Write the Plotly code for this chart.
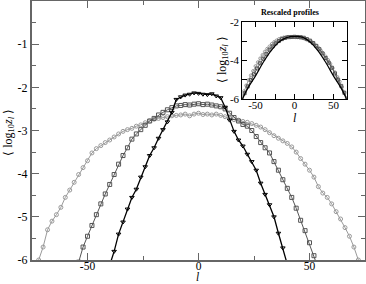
import plotly.graph_objects as go

# ---- main panel data ----
l_black = list(range(-40, 41, 2))
v_black = [-6.12, -5.8, -5.4, -5.12, -4.82, -4.55, -4.36, -4.08, -3.84, -3.58,
           -3.40, -3.18, -2.98, -2.80, -2.58, -2.28, -2.22, -2.18, -2.16, -2.13,
           -2.14, -2.16, -2.17, -2.15, -2.20, -2.24, -2.46, -2.76, -3.02, -3.22,
           -3.36, -3.55, -3.72, -3.92, -4.22, -4.48, -4.72, -5.0, -5.38, -5.72, -6.1]

l_dark = list(range(-54, 55, 2))
v_dark = [-6.05, -5.7, -5.45, -5.2, -4.95, -4.7, -4.47, -4.25, -4.02, -3.78,
          -3.58, -3.4, -3.2, -3.08, -2.98, -2.88, -2.78, -2.72, -2.64, -2.58,
          -2.52, -2.47, -2.43, -2.42, -2.40, -2.41, -2.39, -2.38, -2.40, -2.39,
          -2.41, -2.43, -2.45, -2.5, -2.6, -2.7, -2.78, -2.86, -2.9, -3.0,
          -3.14, -3.28, -3.4, -3.52, -3.72, -3.92, -4.14, -4.34, -4.55, -4.8,
          -5.08, -5.32, -5.6, -5.9, -6.2]

l_light = list(range(-72, 73, 2))
v_light = [-6.0, -5.7, -5.3, -5.1, -4.95, -4.78, -4.55, -4.38, -4.2, -4.02,
           -3.86, -3.7, -3.52, -3.42, -3.35, -3.28, -3.22, -3.15, -3.08, -3.02,
           -2.98, -2.95, -2.9, -2.87, -2.82, -2.78, -2.74, -2.72, -2.70, -2.68,
           -2.66, -2.65, -2.64, -2.62, -2.66, -2.62, -2.6, -2.63, -2.62, -2.64,
           -2.62, -2.65, -2.68, -2.72, -2.75, -2.76, -2.79, -2.81, -2.84, -2.88,
           -2.92, -2.98, -3.05, -3.12, -3.18, -3.24, -3.3, -3.38, -3.5, -3.65,
           -3.78, -3.92, -4.08, -4.3, -4.45, -4.55, -4.7, -4.88, -5.05, -5.25,
           -5.45, -5.7, -6.0]

# ---- inset (rescaled) data ----
il_black = [-68, -60, -50, -40, -30, -20, -10, 0, 10, 20, 30, 40, 50, 60, 68]
iv_black = [-6.1, -5.45, -4.8, -4.1, -3.5, -3.05, -2.82, -2.76, -2.8, -3.05,
            -3.5, -4.1, -4.8, -5.45, -6.1]

il_dark = [-68, -64, -60, -56, -52, -48, -44, -40, -36, -32, -28, -24, -20, -16,
           -12, -8, -4, 0, 4, 8, 12, 16, 20, 24, 28, 32, 36, 40, 44, 48, 52,
           56, 60, 64, 68]
iv_dark = [-6.05, -5.7, -5.35, -5.02, -4.72, -4.42, -4.15, -3.92, -3.68, -3.45,
           -3.28, -3.12, -3.0, -2.9, -2.84, -2.8, -2.79, -2.78, -2.79, -2.8,
           -2.83, -2.9, -2.98, -3.1, -3.25, -3.42, -3.64, -3.88, -4.12, -4.38,
           -4.68, -5.0, -5.32, -5.68, -6.05]

il_light = [-68, -65, -62, -59, -56, -53, -50, -47, -44, -41, -38, -35, -32,
            -29, -26, -23, -20, -17, -14, -11, -8, -5, -2, 1, 4, 7, 10, 13, 16,
            19, 22, 25, 28, 31, 34, 37, 40, 43, 46, 49, 52, 55, 58, 61, 64, 67]
iv_light = [-5.95, -5.6, -5.3, -5.02, -4.78, -4.55, -4.3, -4.1, -3.9, -3.72,
            -3.55, -3.4, -3.28, -3.15, -3.05, -2.97, -2.9, -2.85, -2.82, -2.8,
            -2.79, -2.8, -2.79, -2.8, -2.8, -2.82, -2.84, -2.88, -2.92, -2.98,
            -3.05, -3.14, -3.24, -3.36, -3.5, -3.64, -3.8, -3.98, -4.18, -4.4,
            -4.62, -4.86, -5.1, -5.38, -5.65, -5.95]

main_xticks = [-50, 0, 50]
main_xticktext = ["-50", "0", "50"]
main_yticks = [-6, -5, -4, -3, -2, -1]
main_yticktext = ["-6", "-5", "-4", "-3", "-2", "-1"]
inset_xticks = [-50, 0, 50]
inset_xticktext = ["-50", "0", "50"]
inset_yticks = [-6, -4, -2]
inset_yticktext = ["-6", "-4", "-2"]

FONT = "Liberation Serif"
C_BLACK = "#000000"
C_DARK = "#555555"
C_LIGHT = "#9a9a9a"

fig = go.Figure()

fig.add_trace(go.Scatter(x=l_light, y=v_light, mode="lines+markers",
                         line=dict(color=C_LIGHT, width=1),
                         marker=dict(symbol="circle-open", size=4, color=C_LIGHT,
                                     line=dict(width=1, color=C_LIGHT)),
                         showlegend=False))
fig.add_trace(go.Scatter(x=l_dark, y=v_dark, mode="lines+markers",
                         line=dict(color=C_DARK, width=1),
                         marker=dict(symbol="square-open", size=4, color=C_DARK,
                                     line=dict(width=1, color=C_DARK)),
                         showlegend=False))
fig.add_trace(go.Scatter(x=l_black, y=v_black, mode="lines+markers",
                         line=dict(color=C_BLACK, width=1.3),
                         marker=dict(symbol="triangle-down-open", size=4, color=C_BLACK,
                                     line=dict(width=1, color=C_BLACK)),
                         showlegend=False))

# inset
fig.add_trace(go.Scatter(x=il_light, y=iv_light, mode="lines+markers", xaxis="x2", yaxis="y2",
                         line=dict(color=C_LIGHT, width=1),
                         marker=dict(symbol="circle-open", size=3, color=C_LIGHT,
                                     line=dict(width=1, color=C_LIGHT)),
                         showlegend=False))
fig.add_trace(go.Scatter(x=il_dark, y=iv_dark, mode="lines+markers", xaxis="x2", yaxis="y2",
                         line=dict(color=C_DARK, width=1),
                         marker=dict(symbol="square-open", size=3, color=C_DARK,
                                     line=dict(width=1, color=C_DARK)),
                         showlegend=False))
fig.add_trace(go.Scatter(x=il_black, y=iv_black, mode="lines", xaxis="x2", yaxis="y2",
                         line=dict(color=C_BLACK, width=1.2, shape="spline"),
                         showlegend=False))

axis_common = dict(showgrid=False, zeroline=False, showline=True, mirror="ticks",
                   ticks="inside", automargin=False)

fig.update_layout(
    template="none",
    width=366, height=284,
    margin=dict(l=32, r=1, t=1, b=24, pad=0),
    paper_bgcolor="white", plot_bgcolor="white",
    font=dict(family=FONT, size=12, color="#000"),
    xaxis=dict(**axis_common, range=[-75, 75], tickmode="array",
               tickvals=main_xticks, ticktext=main_xticktext, ticklabelstandoff=-6,
               tickfont=dict(family=FONT, size=11.5, color="#000"),
               linecolor="#666", linewidth=2, tickcolor="#666", ticklen=7, tickwidth=1,
               minor=dict(tickmode="array", tickvals=[-25, 25], ticks="inside",
                          ticklen=4, tickcolor="#666")),
    yaxis=dict(**axis_common, range=[-6, 0], tickmode="array",
               tickvals=main_yticks, ticktext=main_yticktext,
               tickfont=dict(family=FONT, size=12, color="#000"),
               linecolor="#666", linewidth=2, tickcolor="#666", ticklen=7, tickwidth=1,
               minor=dict(tickmode="array",
                          tickvals=[-5.5, -4.5, -3.5, -2.5, -1.5, -0.5],
                          ticks="inside", ticklen=4, tickcolor="#666")),
    xaxis2=dict(**axis_common, domain=[0.6315, 0.945], anchor="y2", range=[-67, 67],
                tickmode="array", tickvals=inset_xticks, ticktext=inset_xticktext,
                ticklabelstandoff=-4,
                tickfont=dict(family=FONT, size=11, color="#000"),
                linecolor="#000", linewidth=1, tickcolor="#000", ticklen=5,
                minor=dict(tickmode="array", tickvals=[-25, 25], ticks="inside",
                           ticklen=5, tickcolor="#000")),
    yaxis2=dict(**axis_common, domain=[0.6216, 0.92], anchor="x2", range=[-6, -2],
                tickmode="array", tickvals=inset_yticks, ticktext=inset_yticktext,
                tickfont=dict(family=FONT, size=11, color="#000"),
                linecolor="#000", linewidth=1, tickcolor="#000", ticklen=5,
                minor=dict(tickmode="array", tickvals=[-5, -3], ticks="inside",
                           ticklen=5, tickcolor="#000")),
    annotations=[
        dict(text="<i>l</i>", x=0.4955, y=-0.0927, xref="paper", yref="paper",
             showarrow=False, borderpad=0,
             font=dict(family=FONT, size=11.5), xanchor="center", yanchor="bottom"),
        dict(text="\u27e8 log<sub>10</sub><i>z<sub>l</sub></i> \u27e9", x=-0.07, y=0.494,
             xref="paper", yref="paper", showarrow=False, textangle=-90,
             font=dict(family=FONT, size=12), xanchor="center", yanchor="middle"),
        dict(text="<i>l</i>", x=0.79, y=0.548, xref="paper", yref="paper",
             showarrow=False, font=dict(family=FONT, size=12), xanchor="center", yanchor="middle"),
        dict(text="\u27e8 log<sub>10</sub><i>z<sub>l</sub></i> \u27e9", x=0.5736, y=0.772,
             xref="paper", yref="paper", showarrow=False, textangle=-90,
             font=dict(family=FONT, size=12), xanchor="center", yanchor="middle"),
        dict(text="<b>Rescaled profiles</b>", x=0.775, y=0.954, xref="paper", yref="paper",
             showarrow=False, font=dict(family=FONT, size=8), xanchor="center", yanchor="middle"),
    ],
)

fig.write_html("out.html", config={"displayModeBar": False},
               post_script="document.body.style.margin='0';document.body.style.overflow='hidden';")
